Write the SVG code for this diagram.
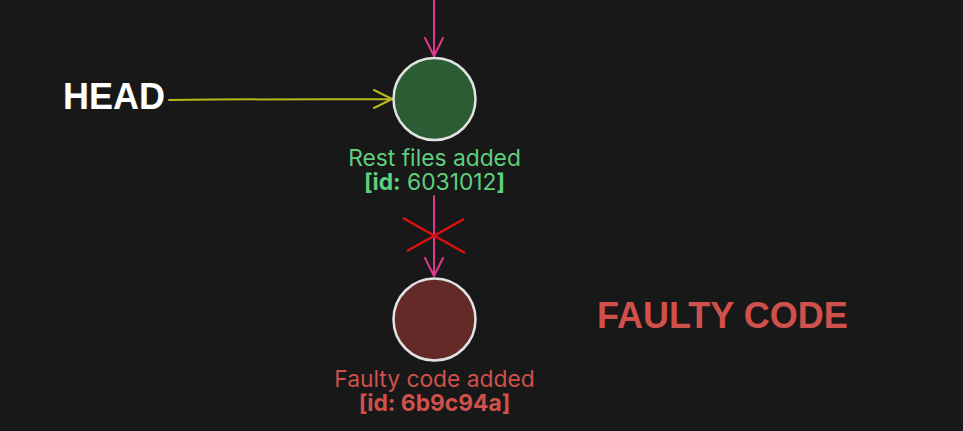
<svg xmlns="http://www.w3.org/2000/svg" width="963" height="431" viewBox="0 0 963 431">
<style>
.bg{fill:#181818}
.node{stroke:#e2e2e2;stroke-width:2.5}
.pink{stroke:#e0388d;stroke-width:2;fill:none;stroke-linecap:round;stroke-linejoin:round}
.yel{stroke:#b8b81c;stroke-width:2;fill:none;stroke-linecap:round;stroke-linejoin:round}
.lbl{font-family:Inter,"Liberation Sans",sans-serif;font-size:22.8px;text-anchor:middle}
.big{font-family:"Liberation Sans",Arial,sans-serif;font-weight:bold;font-size:36px}
</style>
<rect class="bg" width="963" height="431"/>
<g id="connectors">
  <path class="pink" d="M434 0 V56 M425 38 L434 56 L443 38"/>
  <path class="pink" d="M434 196 V276 M425 258 L434 276 L443 258"/>
  <path class="yel" d="M169 100 Q280 99 392 99 M374 90 L392 99 L374 108"/>
  <path d="M403 218 L465 253 M407 251 L464 219" stroke="#e01010" stroke-width="2.5" fill="none"/>
</g>
<g id="head">
  <text class="big" x="63" y="109" fill="#ffffff">HEAD</text>
</g>
<g id="commit-6031012">
  <circle class="node" cx="434.5" cy="99" r="41" fill="#2b5c34"/>
  <text class="lbl" x="434.5" y="166" fill="#5ecf7c">Rest files added</text>
  <text class="lbl" x="434.5" y="190" fill="#5ecf7c"><tspan font-weight="bold">[id:</tspan> 6031012<tspan font-weight="bold">]</tspan></text>
</g>
<g id="commit-6b9c94a">
  <circle class="node" cx="434.5" cy="319.5" r="41" fill="#632a27"/>
  <text class="lbl" x="434.5" y="387" fill="#d0504b">Faulty code added</text>
  <text class="lbl" x="434.5" y="411" fill="#d0504b" font-weight="bold">[id: 6b9c94a]</text>
</g>
<g id="faulty-label">
  <text class="big" x="597" y="328" fill="#d0504b">FAULTY CODE</text>
</g>
</svg>
